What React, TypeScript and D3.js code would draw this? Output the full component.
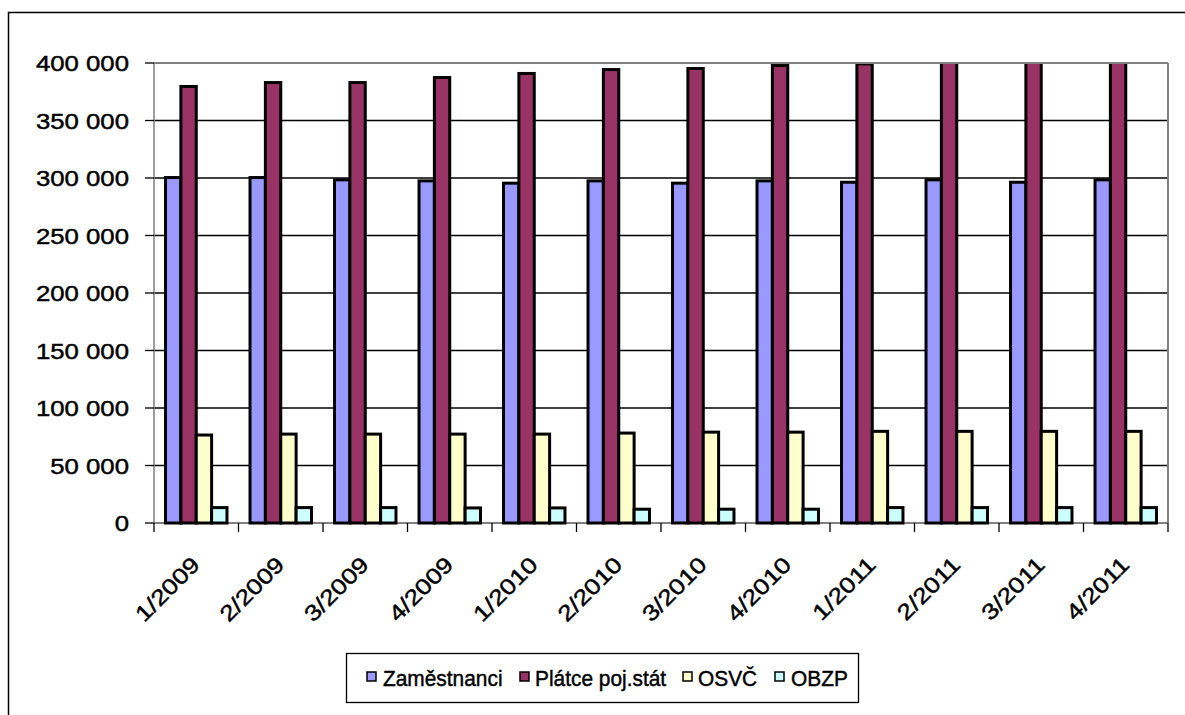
import React from "react";
import * as d3 from "d3";

const categories = ["1/2009", "2/2009", "3/2009", "4/2009", "1/2010", "2/2010", "3/2010", "4/2010", "1/2011", "2/2011", "3/2011", "4/2011"];
const seriesNames = ["Zaměstnanci", "Plátce poj.stát", "OSVČ", "OBZP"];
const zamestnanci = [300400, 300400, 298400, 297500, 295500, 297500, 295500, 297500, 296300, 298400, 296300, 298400];
const platce = [379600, 383000, 383000, 387400, 390900, 394300, 395200, 397800, 399200, 401000, 402000, 403000];
const osvc = [76500, 77300, 77300, 77300, 77300, 78200, 79000, 79000, 79700, 79700, 79700, 79700];
const obzp = [13400, 13400, 13400, 13100, 13100, 12000, 12000, 12000, 13400, 13400, 13400, 13400];
const yTicks = [0, 50000, 100000, 150000, 200000, 250000, 300000, 350000, 400000];
const colors = ["#9999FF", "#993366", "#FFFFCC", "#CCFFFF"];

const L = 154, R = 1168, T = 63, B = 523;
const legendSq = [367, 520, 683, 775];
const legendTx = [383, 535, 698, 791];

const fmt = (v: number) => {
  const s = String(v);
  return s.replace(/\B(?=(\d{3})+(?!\d))/g, " ");
};

export default function App() {
  const values = [zamestnanci, platce, osvc, obzp];
  const x = d3.scaleBand<string>().domain(categories).range([L, R]).paddingInner(0).paddingOuter(0);
  const xi = d3.scaleBand<string>().domain(seriesNames).range([0, x.bandwidth()]).paddingInner(0).paddingOuter(0.75);
  const y = d3.scaleLinear().domain([0, 400000]).range([B, T]);
  const font = "Arial, 'Liberation Sans', sans-serif";
  const textStroke = { stroke: "#000", strokeWidth: 0.45 };

  return (
    <svg width={1185} height={715} style={{ position: "absolute", left: 0, top: 0, background: "#fff" }}>
      <rect x={8.5} y={12.5} width={1200} height={720} fill="#fff" stroke="#000" strokeWidth={1.5} />
      <defs>
        <clipPath id="plotClip">
          <rect x={L - 5} y={T + 1} width={R - L + 10} height={B - T + 5} />
        </clipPath>
      </defs>
      {yTicks.filter((t) => t > 0 && t < 400000).map((t) => (
        <line key={t} x1={L} x2={R} y1={y(t)} y2={y(t)} stroke="#000" strokeWidth={1.6} />
      ))}
      <line x1={L} x2={R} y1={T} y2={T} stroke="#808080" strokeWidth={2} />
      <line x1={R} x2={R} y1={T} y2={B} stroke="#808080" strokeWidth={2} />
      <line x1={L} x2={R} y1={B} y2={B} stroke="#808080" strokeWidth={2} />
      <line x1={L} x2={L} y1={T} y2={B} stroke="#808080" strokeWidth={1.5} />
      {yTicks.map((t) => (
        <g key={t}>
          <line x1={L - 9} x2={L} y1={y(t)} y2={y(t)} stroke="#000" strokeWidth={1.3} />
          <text transform={`translate(129,${y(t) + 8}) scale(1.17,1)`} textAnchor="end" fontFamily={font} fontSize={22} fill="#000" {...textStroke}>
            {fmt(t)}
          </text>
        </g>
      ))}
      {categories.map((c, i) => (
        <line key={c} x1={L + i * x.bandwidth()} x2={L + i * x.bandwidth()} y1={B} y2={B + 9} stroke="#000" strokeWidth={1.3} />
      ))}
      <line x1={R} x2={R} y1={B} y2={B + 9} stroke="#000" strokeWidth={1.3} />
      <g clipPath="url(#plotClip)">
        {categories.map((c, i) => (
          <g key={c}>
            {seriesNames.map((s, k) => {
              const v = values[k][i];
              const bx = (x(c) as number) + (xi(s) as number);
              const top = y(v);
              return (
                <rect key={s} x={bx} y={top} width={xi.bandwidth()} height={B - top} fill={colors[k]} stroke="#000" strokeWidth={3} />
              );
            })}
          </g>
        ))}
      </g>
      {categories.map((c) => {
        const cx = (x(c) as number) + x.bandwidth() / 2;
        return (
          <text key={c} transform={`translate(${cx + 5},566) rotate(-45) scale(1.2,1)`} textAnchor="end" fontFamily={font} fontSize={22} fill="#000" {...textStroke}>
            {c}
          </text>
        );
      })}
      <rect x={346.5} y={653.5} width={512} height={49} fill="#fff" stroke="#000" strokeWidth={1.3} />
      {seriesNames.map((s, k) => (
        <g key={s}>
          <rect x={legendSq[k]} y={672} width={9} height={9} fill={colors[k]} stroke="#000" strokeWidth={1.5} />
          <text transform={`translate(${legendTx[k]},685.5) scale(0.95,1)`} fontFamily={font} fontSize={22} fill="#000" {...textStroke}>
            {s}
          </text>
        </g>
      ))}
    </svg>
  );
}
